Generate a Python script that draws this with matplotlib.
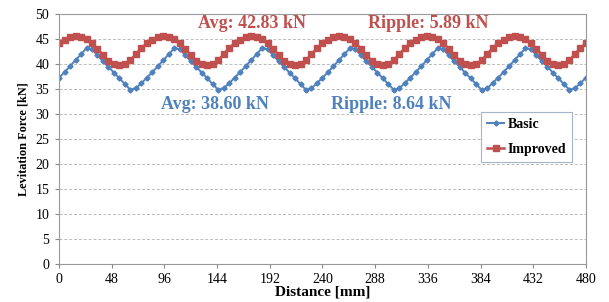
# Levitation force: basic vs improved

import matplotlib
matplotlib.use("Agg")
import matplotlib.pyplot as plt

# distance (mm), one sample every 5 mm
distance = list(range(0, 481, 5))

basic = [
    37.3, 38.4, 39.6, 40.8, 42.0, 43.2, 43.0, 41.8, 40.6, 39.5, 38.3, 37.2, 36.0, 34.9, 35.2, 36.2,
    37.3, 38.4, 39.6, 40.8, 42.0, 43.2, 43.0, 41.8, 40.6, 39.5, 38.3, 37.2, 36.0, 34.9, 35.2, 36.2,
    37.3, 38.4, 39.6, 40.8, 42.0, 43.2, 43.0, 41.8, 40.6, 39.5, 38.3, 37.2, 36.0, 34.9, 35.2, 36.2,
    37.3, 38.4, 39.6, 40.8, 42.0, 43.2, 43.0, 41.8, 40.6, 39.5, 38.3, 37.2, 36.0, 34.9, 35.2, 36.2,
    37.3, 38.4, 39.6, 40.8, 42.0, 43.2, 43.0, 41.8, 40.6, 39.5, 38.3, 37.2, 36.0, 34.9, 35.2, 36.2,
    37.3, 38.4, 39.6, 40.8, 42.0, 43.2, 43.0, 41.8, 40.6, 39.5, 38.3, 37.2, 36.0, 34.9, 35.2, 36.2,
    37.3,
]

improved = [
    44.2, 44.9, 45.4, 45.6, 45.5, 45.0, 44.2, 43.1, 41.8, 40.7, 40.0, 39.8, 40.0, 40.8, 42.0, 43.2,
    44.2, 44.9, 45.4, 45.6, 45.5, 45.0, 44.2, 43.1, 41.8, 40.7, 40.0, 39.8, 40.0, 40.8, 42.0, 43.2,
    44.2, 44.9, 45.4, 45.6, 45.5, 45.0, 44.2, 43.1, 41.8, 40.7, 40.0, 39.8, 40.0, 40.8, 42.0, 43.2,
    44.2, 44.9, 45.4, 45.6, 45.5, 45.0, 44.2, 43.1, 41.8, 40.7, 40.0, 39.8, 40.0, 40.8, 42.0, 43.2,
    44.2, 44.9, 45.4, 45.6, 45.5, 45.0, 44.2, 43.1, 41.8, 40.7, 40.0, 39.8, 40.0, 40.8, 42.0, 43.2,
    44.2, 44.9, 45.4, 45.6, 45.5, 45.0, 44.2, 43.1, 41.8, 40.7, 40.0, 39.8, 40.0, 40.8, 42.0, 43.2,
    44.2,
]

x_ticks = [0, 48, 96, 144, 192, 240, 288, 336, 384, 432, 480]
y_ticks = [0, 5, 10, 15, 20, 25, 30, 35, 40, 45, 50]

blue = "#4F81BD"
red = "#C0504D"

plt.rcParams["font.family"] = ["Liberation Serif", "DejaVu Serif"]

fig = plt.figure(figsize=(6.09, 3.02), dpi=100)
ax = fig.add_axes([0.097, 0.125, 0.865, 0.828])

ax.plot(distance, basic, color=blue, lw=1.4, marker="D", ms=2.6, label="Basic")
ax.plot(distance, improved, color=red, lw=1.8, marker="s", ms=3.8, label="Improved")

ax.set_xlim(0, 480)
ax.set_ylim(0, 50)
ax.set_xticks(x_ticks)
ax.set_yticks(y_ticks)
ax.tick_params(labelsize=10, length=3, color="#888888")
ax.tick_params(axis="y", pad=4)
ax.tick_params(axis="x", pad=3)
ax.yaxis.grid(True, ls=(0, (3, 2)), color="#BBBBBB", lw=0.7)
ax.set_axisbelow(True)
for s in ax.spines.values():
    s.set_color("#999999")
    s.set_linewidth(0.8)

ax.set_xlabel("Distance [mm]", fontsize=11, fontweight="bold", labelpad=0)
ax.set_ylabel("Levitation Force [kN]", fontsize=8.8, fontweight="bold", labelpad=4)

ax.text(176, 48.2, "Avg: 42.83 kN", color=red, fontsize=13, fontweight="bold", ha="center", va="center")
ax.text(336, 48.2, "Ripple: 5.89 kN", color=red, fontsize=13, fontweight="bold", ha="center", va="center")
ax.text(142, 31.9, "Avg: 38.60 kN", color=blue, fontsize=13, fontweight="bold", ha="center", va="center")
ax.text(303, 31.9, "Ripple: 8.64 kN", color=blue, fontsize=13, fontweight="bold", ha="center", va="center")

leg = ax.legend(loc="upper left", bbox_to_anchor=(0.801, 0.609), fancybox=False,
                prop={"weight": "bold", "size": 10}, handlelength=1.2, handletextpad=0.25,
                labelspacing=0.85, borderpad=0.45, borderaxespad=0,
                edgecolor="#A6B4CC", framealpha=1)
leg.get_frame().set_linewidth(0.8)

fig.savefig("out.png", dpi=100)
